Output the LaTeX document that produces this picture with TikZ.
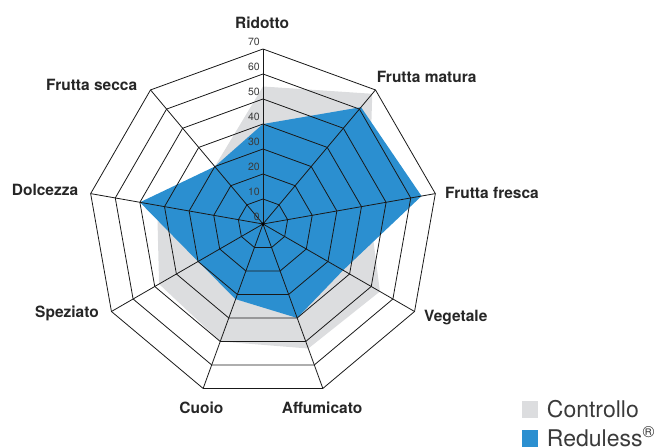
\documentclass[tikz,border=0pt]{standalone}
\usepackage{fontspec}
\setmainfont{TeX Gyre Heros}
\definecolor{redblue}{HTML}{2B8FD0}
\definecolor{ctrlgray}{HTML}{DCDDDF}
\definecolor{txtgray}{HTML}{3A3A3A}
\begin{document}
\begin{tikzpicture}[x=1pt,y=1pt,
  axislabel/.style={font=\fontsize{15.5}{18}\selectfont\bfseries, text=black!85, inner sep=0pt, anchor=base west},
  ticklabel/.style={font=\fontsize{10.5}{12}\selectfont, text=txtgray, inner sep=0pt, anchor=base east},
  legtext/.style={font=\fontsize{23}{26}\selectfont, text=txtgray, inner sep=0pt, anchor=base west},
  legsq/.style={minimum size=16.6pt, inner sep=0pt, outer sep=0pt},
  gridline/.style={line width=0.8pt, black!90, line join=miter}]
\useasboundingbox (-263,-223) rectangle (391,224);
% Controllo
\fill[ctrlgray] (90:137.5) -- (50:170) -- (10:107.5) -- (-30:135) -- (-70:132.5)
  -- (-110:125) -- (-150:120) -- (170:107.5) -- (130:75) -- cycle;
% Reduless
\fill[redblue] (90:100) -- (50:152.5) -- (10:161) -- (-30:92.5) -- (-70:100)
  -- (-110:80) -- (-150:75) -- (170:125) -- (130:75) -- cycle;
% grid
\coordinate (c) at (0,0);
\foreach \r in {25,50,...,175}
  \draw[gridline] (90:\r) \foreach \a in {50,10,-30,-70,-110,-150,-190,-230}{ -- (\a:\r)} -- cycle;
\foreach \a in {90,50,10,-30,-70,-110,-150,-190,-230}
  \draw[gridline] (c) -- (\a:175);
\fill[black] (c) circle (1.8);
% tick labels
\foreach \v in {0,10,...,70}
  \node[ticklabel] (t\v) at (-3,{\v*2.5+3}) {\v};
% axis labels
\node[axislabel] (ridotto) at (-28,195.7) {Ridotto};
\node[axislabel] (fmatura) at (113.7,141.3) {Frutta matura};
\node[axislabel] (ffresca) at (182,25) {Frutta fresca};
\node[axislabel] (vegetale) at (161,-97.7) {Vegetale};
\node[axislabel] (affumicato) at (18.7,-189.3) {Affumicato};
\node[axislabel] (cuoio) at (-83.7,-189.3) {Cuoio};
\node[axislabel] (speziato) at (-228,-93.3) {Speziato};
\node[axislabel] (dolcezza) at (-251.3,28) {Dolcezza};
\node[axislabel] (fsecca) at (-217,133.3) {Frutta secca};
% legend
\node[legsq, fill=ctrlgray] (lgc) at (267,-185.7) {};
\node[legsq, fill=redblue] (lgr) at (267,-214.4) {};
\node[legtext] (ltc) at (283.7,-193.7) {Controllo};
\node[legtext] (ltr) at (283.7,-222.6) {Reduless\textsuperscript{®}};
\end{tikzpicture}
\end{document}
